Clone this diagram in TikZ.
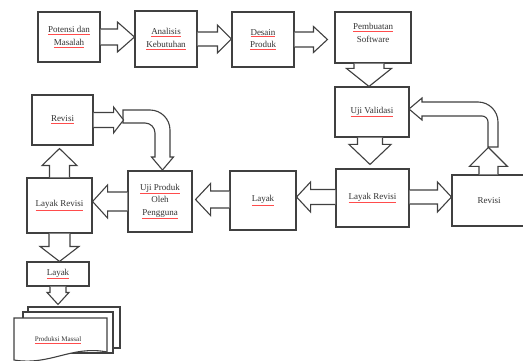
\documentclass[tikz,border=0pt]{standalone}
\usepackage{fontspec}
\setmainfont{Liberation Serif}
\usetikzlibrary{calc}
\newcommand\ulx[1]{{\color{red!70}\underline{\textcolor{black!80}{#1}}}}
% horizontal block arrow: start, tip, shaft half width, head half width, head length
\newcommand\harr[5]{\draw[blk] let \p1=#1, \p2=#2, \n1={ifthenelse(\x2>\x1,1,-1)*#5} in
  (\x1,\y1+#3) -- (\x2-\n1,\y1+#3) -- (\x2-\n1,\y1+#4) -- (\x2,\y1) -- (\x2-\n1,\y1-#4) -- (\x2-\n1,\y1-#3) -- (\x1,\y1-#3);}
% vertical block arrow
\newcommand\varr[5]{\draw[blk] let \p1=#1, \p2=#2, \n1={ifthenelse(\y2>\y1,1,-1)*#5} in
  (\x1+#3,\y1) -- (\x1+#3,\y2-\n1) -- (\x1+#4,\y2-\n1) -- (\x1,\y2) -- (\x1-#4,\y2-\n1) -- (\x1-#3,\y2-\n1) -- (\x1-#3,\y1);}
\begin{document}
\begin{tikzpicture}[x=1pt,y=-1pt,
  box/.style={draw=black!75, line width=1.1pt, fill=white, inner sep=0pt, align=center,
    font=\fontsize{9}{12.5}\selectfont, text=black!80},
  txt/.style={inner sep=0pt, align=center, font=\fontsize{9}{12.5}\selectfont, text=black!80},
  blk/.style={draw=black!75, line width=1.1pt, fill=white, line join=miter}]
\useasboundingbox (0,0) rectangle (523,361);

% boxes
\node[box, minimum width=62pt, minimum height=50pt] (pm) at (69,37) {\ulx{Potensi dan}\\\ulx{Masalah}};
\node[box, minimum width=62pt, minimum height=56pt] (ak) at (166,39) {\ulx{Analisis}\\\ulx{Kebutuhan}};
\node[box, minimum width=62pt, minimum height=55pt] (dp) at (263,39.5) {\ulx{Desain}\\\ulx{Produk}};
\node[box, minimum width=76pt, minimum height=51pt] (ps) at (373,37.5) {};
\node[txt] (pst) at ($(ps.center)+(0,-4.5)$) {\ulx{Pembuatan}\\Software};
\node[box, minimum width=74pt, minimum height=50pt] (uv) at (372,112) {\ulx{Uji Validasi}};
\node[box, minimum width=73pt, minimum height=58pt] (lr) at (372.5,198) {\ulx{Layak Revisi}};
\node[box, minimum width=86pt, minimum height=51pt] (rv) at (495,200.5) {};
\node[txt] (rvt) at (489,200.5) {Revisi};
\node[box, minimum width=66pt, minimum height=59pt] (ly) at (263,200.5) {\ulx{Layak}};
\node[box, minimum width=64pt, minimum height=61pt] (up) at (160,201.5) {\ulx{Uji Produk}\\Oleh\\\ulx{Pengguna}};
\node[box, minimum width=65pt, minimum height=55pt] (lrl) at (59.5,205.5) {\ulx{Layak Revisi}};
\node[box, minimum width=61pt, minimum height=50pt] (rvl) at (62.5,120) {\ulx{Revisi}};
\node[box, minimum width=62pt, minimum height=24pt] (lyb) at (58,274) {\ulx{Layak}};

% Produksi Massal (multi-document)
\node[box, minimum width=92pt, minimum height=41pt] (d3) at (74,327.5) {};
\node[box, minimum width=90pt, minimum height=41pt] (d2) at (68,332.5) {};
\draw[blk] (14,318) -- (107,318) -- (107,352) .. controls (72,345) and (50,366) .. (14,360) -- cycle;
\node[txt, font=\fontsize{7}{9}\selectfont] (pmt) at (58,340) {\ulx{Produksi Massal}};

% straight block arrows
\harr{(pm.east)}{(ak.west)}{8}{15}{17}
\harr{(ak.east)}{(dp.west)}{7}{14}{14}
\harr{(dp.east)}{($(ps.west)+(-7,0)$)}{7.5}{13}{14}
\varr{($(ps.south)+(-4,0)$)}{(uv.north)}{15}{22.5}{18}
\varr{($(uv.south)+(-2,0)$)}{($(lr.north)+(0,-4)$)}{12.5}{21}{20}
\harr{($(lr.east)+(0,-1)$)}{(rv.west)}{7}{15}{14}
\harr{($(lr.west)+(0,-1)$)}{(ly.east)}{7.5}{15}{14}
\harr{($(ly.west)+(0,-1)$)}{($(up.east)+(3,0)$)}{8.5}{16}{15}
\harr{(up.west)}{(lrl.east)}{9.5}{16.5}{15}
\varr{(lrl.north)}{($(rvl.south)+(0,3)$)}{10}{17.5}{17}
\varr{(lrl.south)}{(lyb.north)}{10.5}{19.5}{15}
\varr{(lyb.south)}{($(d3.north)+(0,-2)$)}{8}{11}{12}

% curved arrow Revisi (left) -> Uji Produk
\draw[blk] (123,110) -- (150,110) .. controls (161,110) and (170,119) .. (170,130) -- (170,157)
  -- (173.5,157) -- (162.5,170) -- (151.5,157) -- (155,157) -- (155,133)
  .. controls (155,127.5) and (150.5,123) .. (145,123) -- (123,123) -- cycle;
\harr{(rvl.east)}{($(rvl.east)+(30,0)$)}{7.5}{13}{10}

% curved arrow Revisi (right) -> Uji Validasi
\draw[blk] (488,147) -- (488,122) .. controls (488,118.7) and (485.3,116) .. (482,116) -- (422,116)
  -- (422,120) -- (409,109) -- (422,98) -- (422,102) -- (478,102)
  .. controls (489,102) and (498,111) .. (498,122) -- (498,147) -- cycle;
\varr{($(rv.north west)+(37,0)$)}{($(rv.north west)+(37,-27)$)}{9.5}{19}{19}
\end{tikzpicture}
\end{document}
